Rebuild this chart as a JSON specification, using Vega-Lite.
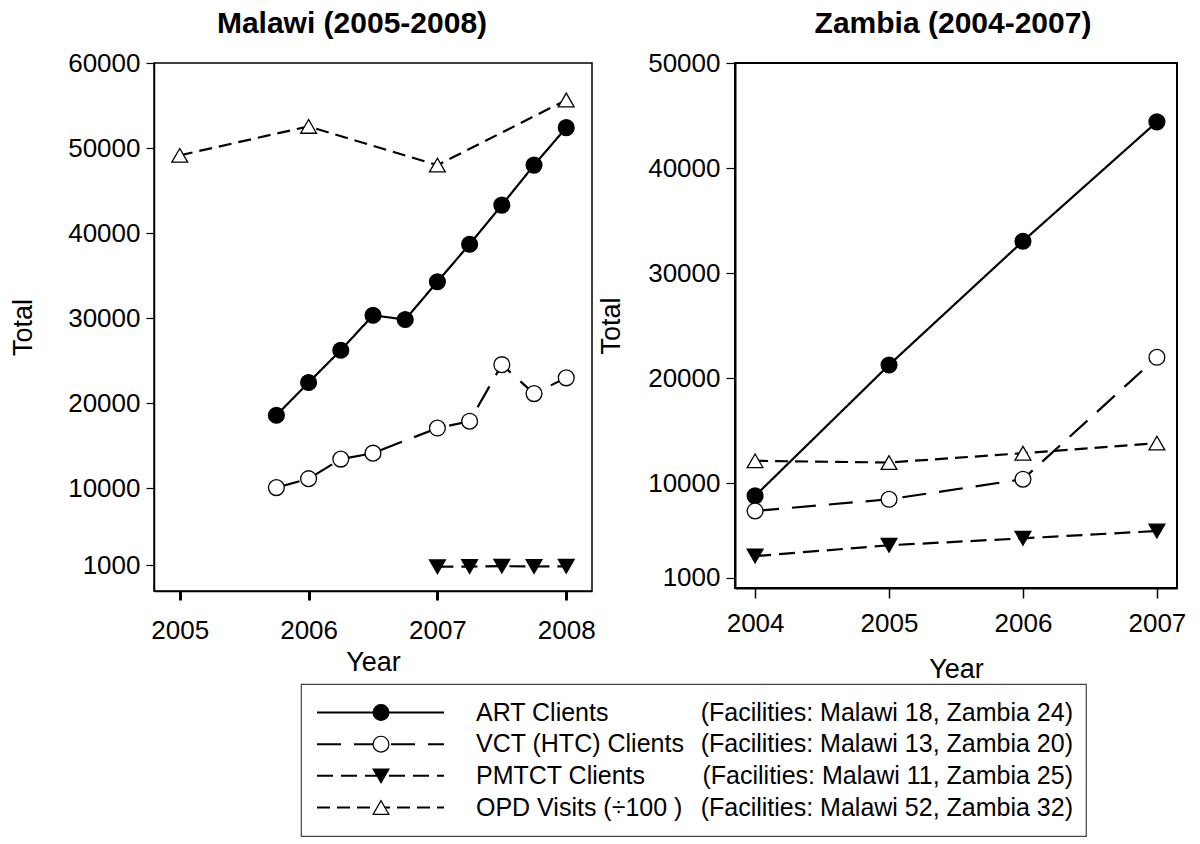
{
  "$schema": "https://vega.github.io/schema/vega-lite/v6.json",
  "background": "white",
  "padding": {"left": 8, "top": 8, "right": 5, "bottom": 5},
  "config": {
    "font": "Liberation Sans",
    "axis": {"grid": false, "labelFont": "Liberation Sans", "titleFont": "Liberation Sans", "labelColor": "black", "titleColor": "black", "domainColor": "black", "tickColor": "black", "titleFontWeight": "normal", "labelFontSize": 26, "titleFontSize": 27, "labelOverlap": false},
    "title": {"font": "Liberation Sans", "fontSize": 30, "fontWeight": "bold", "color": "black"}
  },
  "datasets": {
    "points": [
      {"country": "Malawi", "series": "ART", "year": 2005.75, "value": 18600},
      {"country": "Malawi", "series": "ART", "year": 2006.0, "value": 22450},
      {"country": "Malawi", "series": "ART", "year": 2006.25, "value": 26250},
      {"country": "Malawi", "series": "ART", "year": 2006.5, "value": 30350},
      {"country": "Malawi", "series": "ART", "year": 2006.75, "value": 29850},
      {"country": "Malawi", "series": "ART", "year": 2007.0, "value": 34300},
      {"country": "Malawi", "series": "ART", "year": 2007.25, "value": 38700},
      {"country": "Malawi", "series": "ART", "year": 2007.5, "value": 43300},
      {"country": "Malawi", "series": "ART", "year": 2007.75, "value": 48000},
      {"country": "Malawi", "series": "ART", "year": 2008.0, "value": 52400},
      {"country": "Malawi", "series": "VCT", "year": 2005.75, "value": 10100},
      {"country": "Malawi", "series": "VCT", "year": 2006.0, "value": 11150},
      {"country": "Malawi", "series": "VCT", "year": 2006.25, "value": 13450},
      {"country": "Malawi", "series": "VCT", "year": 2006.5, "value": 14150},
      {"country": "Malawi", "series": "VCT", "year": 2007.0, "value": 17100},
      {"country": "Malawi", "series": "VCT", "year": 2007.25, "value": 17900},
      {"country": "Malawi", "series": "VCT", "year": 2007.5, "value": 24550},
      {"country": "Malawi", "series": "VCT", "year": 2007.75, "value": 21150},
      {"country": "Malawi", "series": "VCT", "year": 2008.0, "value": 23000},
      {"country": "Malawi", "series": "PMTCT", "year": 2007.0, "value": 800},
      {"country": "Malawi", "series": "PMTCT", "year": 2007.25, "value": 820},
      {"country": "Malawi", "series": "PMTCT", "year": 2007.5, "value": 870},
      {"country": "Malawi", "series": "PMTCT", "year": 2007.75, "value": 830},
      {"country": "Malawi", "series": "PMTCT", "year": 2008.0, "value": 850},
      {"country": "Malawi", "series": "OPD", "year": 2005.0, "value": 49150},
      {"country": "Malawi", "series": "OPD", "year": 2006.0, "value": 52550},
      {"country": "Malawi", "series": "OPD", "year": 2007.0, "value": 48000},
      {"country": "Malawi", "series": "OPD", "year": 2008.0, "value": 55650},
      {"country": "Zambia", "series": "ART", "year": 2004, "value": 8770},
      {"country": "Zambia", "series": "ART", "year": 2005, "value": 21240},
      {"country": "Zambia", "series": "ART", "year": 2006, "value": 33030},
      {"country": "Zambia", "series": "ART", "year": 2007, "value": 44390},
      {"country": "Zambia", "series": "VCT", "year": 2004, "value": 7340},
      {"country": "Zambia", "series": "VCT", "year": 2005, "value": 8450},
      {"country": "Zambia", "series": "VCT", "year": 2006, "value": 10360},
      {"country": "Zambia", "series": "VCT", "year": 2007, "value": 21970},
      {"country": "Zambia", "series": "PMTCT", "year": 2004, "value": 3040},
      {"country": "Zambia", "series": "PMTCT", "year": 2005, "value": 4070},
      {"country": "Zambia", "series": "PMTCT", "year": 2006, "value": 4730},
      {"country": "Zambia", "series": "PMTCT", "year": 2007, "value": 5430},
      {"country": "Zambia", "series": "OPD", "year": 2004, "value": 12110},
      {"country": "Zambia", "series": "OPD", "year": 2005, "value": 11950},
      {"country": "Zambia", "series": "OPD", "year": 2006, "value": 12840},
      {"country": "Zambia", "series": "OPD", "year": 2007, "value": 13800}
    ],
    "legendRows": [
      {"series": "ART", "label": "ART Clients", "facilities": "(Facilities: Malawi 18, Zambia 24)"},
      {"series": "VCT", "label": "VCT (HTC) Clients", "facilities": "(Facilities: Malawi 13, Zambia 20)"},
      {"series": "PMTCT", "label": "PMTCT Clients", "facilities": "(Facilities: Malawi 11, Zambia 25)"},
      {"series": "OPD", "label": "OPD Visits (÷100 )", "facilities": "(Facilities: Malawi 52, Zambia 32)"}
    ]
  },
  "resolve": {"scale": {"x": "independent", "y": "independent"}},
  "spacing": 0,
  "vconcat": [
    {
      "spacing": 0,
      "resolve": {"scale": {"x": "independent", "y": "independent"}},
      "hconcat": [
        {
          "title": {"text": "Malawi (2005-2008)", "offset": 11, "dx": -21},
          "width": 438,
          "height": 528,
          "view": {"stroke": "black", "strokeWidth": 1.5},
          "data": {"name": "points"},
          "transform": [{"filter": "datum.country === 'Malawi'"}],
          "encoding": {
            "x": {"field": "year", "type": "quantitative", "scale": {"domain": [2004.8, 2008.2], "nice": false, "zero": false},
              "axis": {"title": "Year", "values": [2005, 2005.25, 2005.5, 2005.75, 2006, 2006.25, 2006.5, 2006.75, 2007, 2007.25, 2007.5, 2007.75, 2008],
                "format": "d", "labelExpr": "datum.value % 1 === 0 ? datum.label : ''", "tickSize": 9,
                "tickWidth": {"condition": {"test": "datum.value % 1 === 0", "value": 3}, "value": 1.5},
                "domainWidth": 1.5, "labelPadding": 17, "titlePadding": 6}},
            "y": {"field": "value", "type": "quantitative", "scale": {"domain": [-2050, 60000], "nice": false, "zero": false},
              "axis": {"title": "Total", "values": [1000, 10000, 20000, 30000, 40000, 50000, 60000], "format": "d", "tickSize": 8, "tickWidth": 1.2, "domainWidth": 1.5, "labelPadding": 6, "titlePadding": 30}}
          },
          "layer": [
            {
              "mark": {"type": "line", "color": "black", "strokeWidth": 2.2},
              "encoding": {
                "detail": {"field": "series"},
                "strokeDash": {"field": "series", "type": "nominal", "legend": null,
                  "scale": {"domain": ["ART", "VCT", "PMTCT", "OPD"], "range": [[1, 0], [24, 13], [16, 8], [13, 7]]}}
              }
            },
            {
              "mark": {"type": "point", "filled": true, "stroke": "black", "strokeWidth": 1.3, "opacity": 1},
              "encoding": {
                "shape": {"field": "series", "type": "nominal", "legend": null,
                  "scale": {"domain": ["ART", "VCT", "PMTCT", "OPD"], "range": ["circle", "circle", "triangle-down", "triangle-up"]}},
                "fill": {"field": "series", "type": "nominal", "legend": null,
                  "scale": {"domain": ["ART", "VCT", "PMTCT", "OPD"], "range": ["black", "white", "black", "white"]}},
                "size": {"field": "series", "type": "nominal", "legend": null,
                  "scale": {"domain": ["ART", "VCT", "PMTCT", "OPD"], "range": [250, 250, 300, 300]}}
              }
            }
          ]
        },
        {
          "title": {"text": "Zambia (2004-2007)", "offset": 11, "dx": -3},
          "width": 442,
          "height": 525,
          "view": {"stroke": "black", "strokeWidth": 2},
          "data": {"name": "points"},
          "transform": [{"filter": "datum.country === 'Zambia'"}],
          "encoding": {
            "x": {"field": "year", "type": "quantitative", "scale": {"domain": [2003.85, 2007.15], "nice": false, "zero": false},
              "axis": {"title": "Year", "values": [2004, 2005, 2006, 2007], "format": "d", "tickSize": 10, "tickWidth": 1.5, "domainWidth": 2, "labelPadding": 12, "titlePadding": 20}},
            "y": {"field": "value", "type": "quantitative", "scale": {"domain": [0, 50000], "nice": false, "zero": false},
              "axis": {"title": "Total", "values": [1000, 10000, 20000, 30000, 40000, 50000], "format": "d", "tickSize": 9, "tickWidth": 1.2, "domainWidth": 2, "labelPadding": 6, "titlePadding": 22}}
          },
          "layer": [
            {
              "mark": {"type": "line", "color": "black", "strokeWidth": 2.2},
              "encoding": {
                "detail": {"field": "series"},
                "strokeDash": {"field": "series", "type": "nominal", "legend": null,
                  "scale": {"domain": ["ART", "VCT", "PMTCT", "OPD"], "range": [[1, 0], [24, 14], [18, 10], [12, 7]]}}
              }
            },
            {
              "mark": {"type": "point", "filled": true, "stroke": "black", "strokeWidth": 1.3, "opacity": 1},
              "encoding": {
                "shape": {"field": "series", "type": "nominal", "legend": null,
                  "scale": {"domain": ["ART", "VCT", "PMTCT", "OPD"], "range": ["circle", "circle", "triangle-down", "triangle-up"]}},
                "fill": {"field": "series", "type": "nominal", "legend": null,
                  "scale": {"domain": ["ART", "VCT", "PMTCT", "OPD"], "range": ["black", "white", "black", "white"]}},
                "size": {"field": "series", "type": "nominal", "legend": null,
                  "scale": {"domain": ["ART", "VCT", "PMTCT", "OPD"], "range": [250, 250, 300, 300]}}
              }
            }
          ]
        }
      ]
    },
    {
      "spacing": 0,
      "resolve": {"scale": {"x": "independent", "y": "independent"}},
      "hconcat": [
        {
          "width": 146,
          "height": 152,
          "view": {"stroke": null},
          "data": {"values": [{}]},
          "mark": {"type": "text", "text": "", "opacity": 0}
        },
        {
          "width": 785,
          "height": 152,
          "view": {"stroke": "#444", "strokeWidth": 1.2},
          "data": {"name": "legendRows"},
          "encoding": {
            "y": {"field": "series", "type": "nominal", "scale": {"type": "point", "domain": ["ART", "VCT", "PMTCT", "OPD"], "padding": 0.9}, "axis": null}
          },
          "layer": [
            {
              "mark": {"type": "rule", "color": "black", "strokeWidth": 2},
              "encoding": {
                "x": {"datum": 16, "type": "quantitative", "scale": {"domain": [0, 785], "nice": false, "zero": false}, "axis": null},
                "x2": {"datum": 143},
                "strokeDash": {"field": "series", "type": "nominal", "legend": null,
                  "scale": {"domain": ["ART", "VCT", "PMTCT", "OPD"], "range": [[1, 0], [27, 13], [17, 8], [10, 6]]}}
              }
            },
            {
              "mark": {"type": "point", "filled": true, "stroke": "black", "strokeWidth": 1.2, "opacity": 1},
              "encoding": {
                "x": {"datum": 80, "type": "quantitative"},
                "shape": {"field": "series", "type": "nominal", "legend": null,
                  "scale": {"domain": ["ART", "VCT", "PMTCT", "OPD"], "range": ["circle", "circle", "triangle-down", "triangle-up"]}},
                "fill": {"field": "series", "type": "nominal", "legend": null,
                  "scale": {"domain": ["ART", "VCT", "PMTCT", "OPD"], "range": ["black", "white", "black", "white"]}},
                "size": {"field": "series", "type": "nominal", "legend": null,
                  "scale": {"domain": ["ART", "VCT", "PMTCT", "OPD"], "range": [110, 110, 140, 140]}}
              }
            },
            {
              "mark": {"type": "text", "align": "left", "baseline": "middle", "fontSize": 25, "color": "black", "font": "Liberation Sans"},
              "encoding": {
                "x": {"datum": 175, "type": "quantitative"},
                "text": {"field": "label"}
              }
            },
            {
              "mark": {"type": "text", "align": "right", "baseline": "middle", "fontSize": 25, "color": "black", "font": "Liberation Sans"},
              "encoding": {
                "x": {"datum": 772, "type": "quantitative"},
                "text": {"field": "facilities"}
              }
            }
          ]
        }
      ]
    }
  ]
}
